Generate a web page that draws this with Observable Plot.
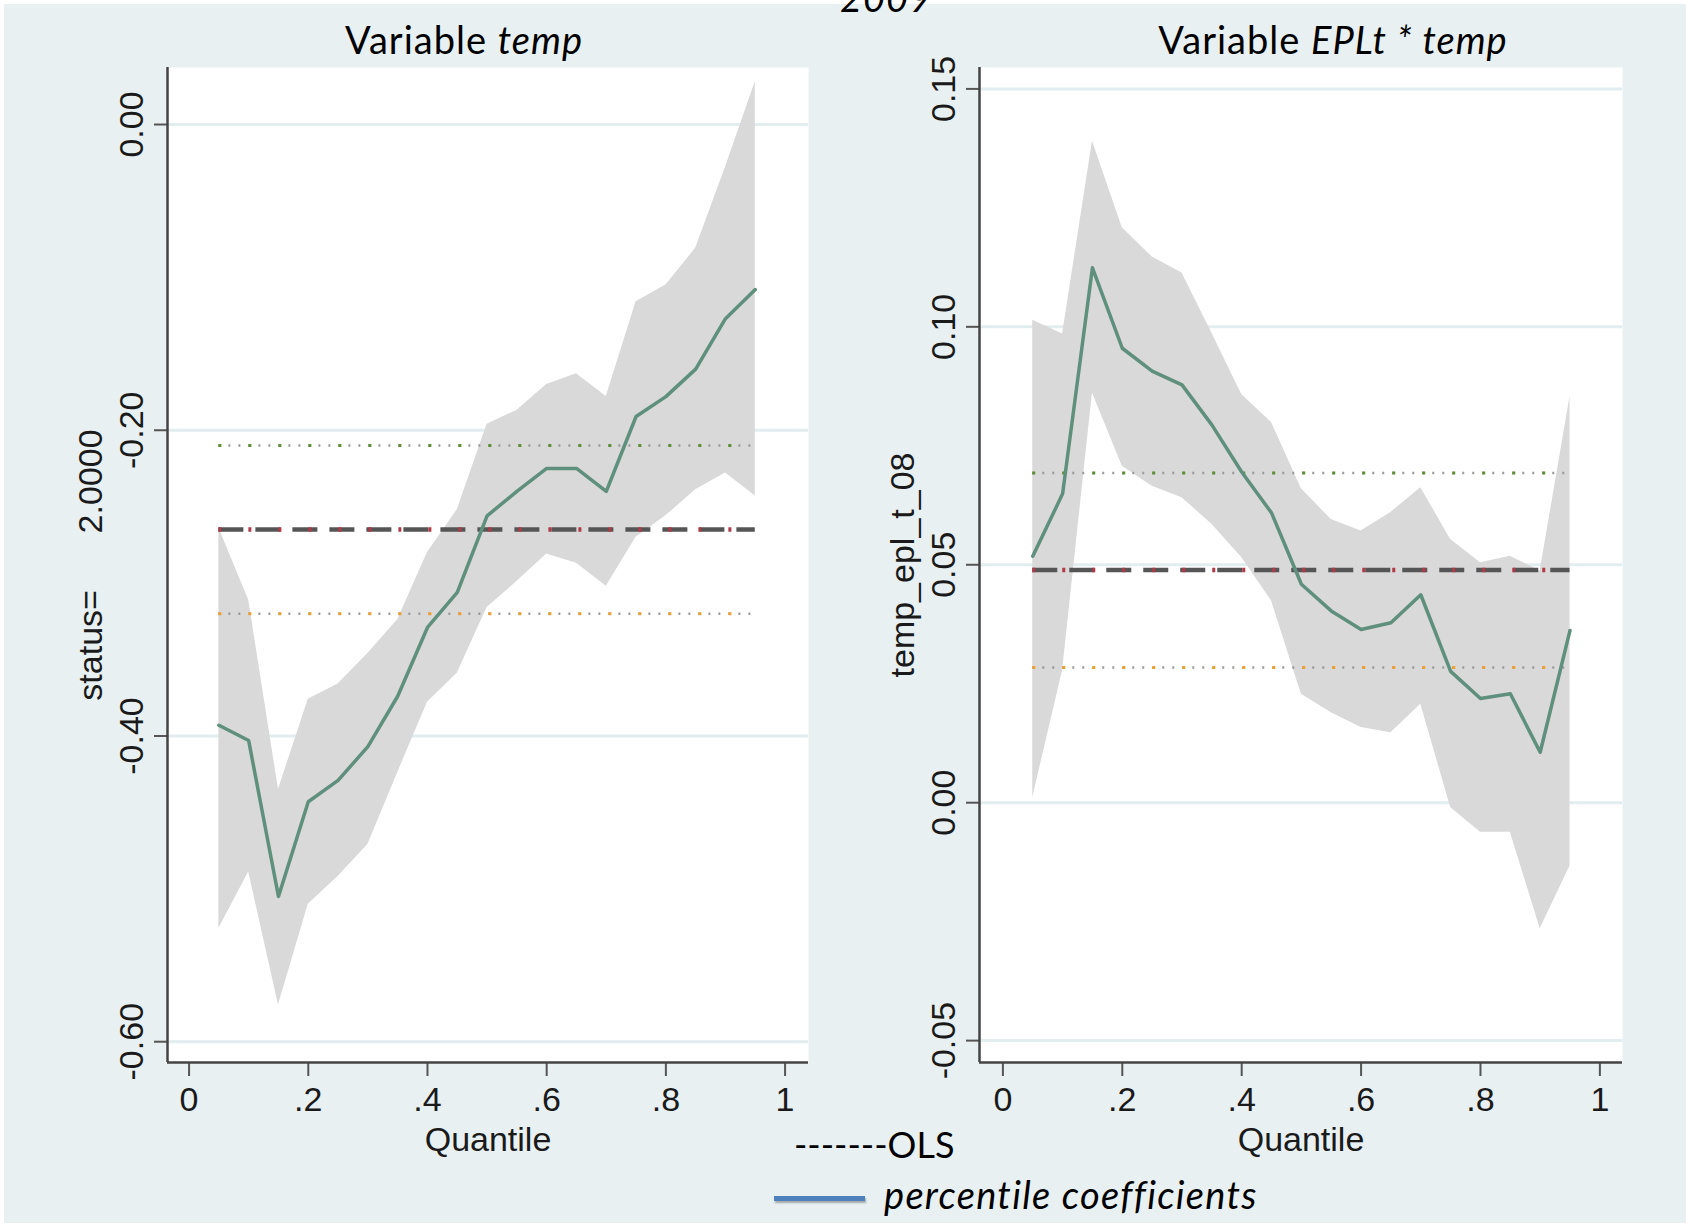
<!DOCTYPE html>
<html><head><meta charset="utf-8">
<script src="https://cdn.jsdelivr.net/npm/d3@7"></script>
<script src="https://cdn.jsdelivr.net/npm/@observablehq/plot@0.6"></script>
<style>
html,body{margin:0;padding:0;background:#fff;}
#page{position:relative;width:1690px;height:1225px;overflow:hidden;background:#fff;}
#bg{position:absolute;left:4px;top:4px;width:1682px;height:1219px;background:#e8f0f2;}
.t{position:absolute;font-family:Lato,"Open Sans",sans-serif;color:#000;white-space:pre;line-height:1;}
.c{text-align:center;width:700px;}
</style></head><body>
<div id="page">
<div id="bg"></div>
<div id="left" style="position:absolute;left:0;top:0"></div>
<div id="right" style="position:absolute;left:845px;top:0"></div>
<div class="t" style="left:736px;top:-22px;width:300px;text-align:center;font-size:38px;font-style:italic;letter-spacing:1px">2009</div>
<div class="t c" style="left:114px;top:20px;font-size:38px;letter-spacing:1px">Variable <i>temp</i></div>
<div class="t c" style="left:983px;top:20px;font-size:38px;letter-spacing:1px">Variable <i>EPLt * temp</i></div>
<div class="t" style="left:794px;top:1126px;font-size:36px">-------OLS</div>
<div style="position:absolute;left:774px;top:1196px;width:91px;height:5px;background:#4f81bd;box-shadow:1px 2px 2px rgba(0,0,0,0.3)"></div>
<div class="t" style="left:884px;top:1175px;font-size:38px;font-style:italic;letter-spacing:1.3px">percentile coefficients</div>
</div>
<script>
const quantiles = [0.05,0.10,0.15,0.20,0.25,0.30,0.35,0.40,0.45,0.50,0.55,0.60,0.65,0.70,0.75,0.80,0.85,0.90,0.95];

// Variable temp
const tempCoef  = [-0.393,-0.403,-0.505,-0.443,-0.429,-0.407,-0.374,-0.329,-0.306,-0.256,-0.240,-0.225,-0.225,-0.240,-0.191,-0.178,-0.160,-0.127,-0.108];
const tempUpper = [-0.264,-0.311,-0.435,-0.376,-0.366,-0.346,-0.324,-0.280,-0.252,-0.196,-0.187,-0.170,-0.163,-0.178,-0.116,-0.105,-0.081,-0.028,0.028];
const tempLower = [-0.526,-0.489,-0.576,-0.510,-0.492,-0.471,-0.424,-0.378,-0.359,-0.316,-0.299,-0.281,-0.287,-0.302,-0.270,-0.256,-0.239,-0.228,-0.243];
const tempOls = [-0.265, -0.210, -0.320]; // coefficient, upper CI, lower CI

// Variable EPLt * temp
const eplCoef  = [0.0518,0.0649,0.1124,0.0955,0.0907,0.0878,0.0794,0.0695,0.0609,0.0459,0.0403,0.0364,0.0378,0.0437,0.0276,0.0219,0.0229,0.0106,0.0362];
const eplUpper = [0.1014,0.0985,0.1390,0.1208,0.1147,0.1113,0.0987,0.0858,0.0799,0.0660,0.0595,0.0571,0.0610,0.0662,0.0553,0.0504,0.0518,0.0487,0.0853];
const eplLower = [0.0011,0.0278,0.0861,0.0707,0.0665,0.0641,0.0585,0.0515,0.0424,0.0228,0.0189,0.0158,0.0147,0.0207,-0.0010,-0.0062,-0.0062,-0.0265,-0.0133];
const eplOls = [0.0489, 0.0693, 0.0284];

const xTicks = [0, 0.2, 0.4, 0.6, 0.8, 1];
const xTickLabels = ["0", ".2", ".4", ".6", ".8", "1"];
const tempYTicks = [0, -0.2, -0.4, -0.6];
const eplYTicks = [0.15, 0.10, 0.05, 0, -0.05];
const xLabel = "Quantile";
const tempYLabel = "status=\u00a0\u00a0\u00a0\u00a0\u00a0 2.0000";
const eplYLabel = "temp_epl_t_08";

function panel({coef, upper, lower, ols, yTicks, yDomain, xDomain, yLabel, width, marginLeft, marginRight}) {
  const rows = quantiles.map((q, i) => ({q, coef: coef[i], hi: upper[i], lo: lower[i]}));
  const q0 = quantiles[0], q1 = quantiles[quantiles.length - 1];
  const hline = (v, opts) => Plot.ruleY([{y: v, x1: q0, x2: q1}], {y: "y", x1: "x1", x2: "x2", ...opts});
  return Plot.plot({
    width, height: 1170, marginLeft, marginRight, marginTop: 67, marginBottom: 108,
    x: {domain: xDomain},
    y: {domain: yDomain},
    style: {fontFamily: "'Liberation Sans', Arial, sans-serif", fontSize: "34px", color: "#1a1a1a", background: "transparent", overflow: "visible"},
    marks: [
      Plot.frame({fill: "#ffffff", stroke: "none"}),
      Plot.ruleY(yTicks, {stroke: "#e2edef", strokeWidth: 3}),
      Plot.areaY(rows, {x: "q", y1: "lo", y2: "hi", fill: "#d9d9d9"}),
      hline(ols[1], {stroke: "#9a9a9a", strokeWidth: 2.5, strokeDasharray: "2,8"}),
      hline(ols[1], {stroke: "#5f8f35", strokeWidth: 3, strokeDasharray: "3,27"}),
      hline(ols[2], {stroke: "#9a9a9a", strokeWidth: 2.5, strokeDasharray: "2,8"}),
      hline(ols[2], {stroke: "#f0a030", strokeWidth: 3, strokeDasharray: "3,27"}),
      hline(ols[0], {stroke: "#555555", strokeWidth: 4.5, strokeDasharray: "25,12"}),
      hline(ols[0], {stroke: "#b03a48", strokeWidth: 4.5, strokeDasharray: "3,27"}),
      Plot.lineY(rows, {x: "q", y: "coef", stroke: "#5f8f7d", strokeWidth: 3.5}),
      Plot.axisY({ticks: yTicks, tickFormat: d => d.toFixed(2), tickRotate: -90, tickSize: 13, tickPadding: 12,
        stroke: "#555", strokeWidth: 2, label: yLabel, labelAnchor: "center", labelArrow: "none", labelOffset: 90}),
      Plot.axisX({ticks: xTicks, tickFormat: d => xTickLabels[xTicks.indexOf(d)], tickSize: 14, tickPadding: 10,
        stroke: "#555", strokeWidth: 2, label: xLabel, labelAnchor: "center", labelArrow: "none", labelOffset: 88}),
      Plot.ruleX([xDomain[0]], {stroke: "#444", strokeWidth: 2.5}),
      Plot.ruleY([yDomain[0]], {stroke: "#444", strokeWidth: 2.5})
    ]
  });
}

document.getElementById("left").append(panel({
  coef: tempCoef, upper: tempUpper, lower: tempLower, ols: tempOls,
  yTicks: tempYTicks, yDomain: [-0.6136, 0.0373], xDomain: [-0.0362, 1.0393],
  yLabel: tempYLabel, width: 830, marginLeft: 167, marginRight: 22
}));
document.getElementById("right").append(panel({
  coef: eplCoef, upper: eplUpper, lower: eplLower, ols: eplOls,
  yTicks: eplYTicks, yDomain: [-0.0546, 0.1545], xDomain: [-0.0392, 1.0379],
  yLabel: eplYLabel, width: 800, marginLeft: 134, marginRight: 23
}));
</script>
</body></html>
